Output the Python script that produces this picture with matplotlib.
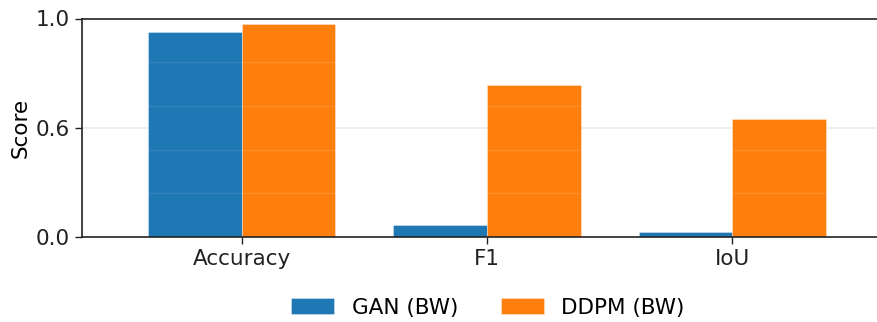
import numpy as np
import matplotlib
matplotlib.use("Agg")
import matplotlib.pyplot as plt

# data
metrics = ["Accuracy", "F1", "IoU"]
gan_bw = [0.938, 0.054, 0.024]
ddpm_bw = [0.975, 0.696, 0.539]
series_names = ["GAN (BW)", "DDPM (BW)"]
ytick_pos = [0.0, 0.5, 1.0]
ytick_labels = ["0.0", "0.6", "1.0"]

plt.rcParams["font.family"] = "DejaVu Sans"
plt.rcParams["font.size"] = 15.5

fig = plt.figure(figsize=(8.77, 3.22), dpi=100)
ax = fig.add_axes([82 / 877, 85 / 322, 810 / 877, 218.5 / 322])

x = np.arange(len(metrics))
w = 0.381
edge = (1, 1, 1, 0.4)
ax.bar(x - w / 2, gan_bw, w, color="#1f77b4", edgecolor=edge, linewidth=0.6,
       label=series_names[0], zorder=1)
ax.bar(x + w / 2, ddpm_bw, w, color="#ff7f0e", edgecolor=edge, linewidth=0.6,
       label=series_names[1], zorder=1)

# faint lines over the bars
for yv in np.arange(0.2, 1.0, 0.2):
    ax.axhline(yv, color="white", alpha=0.1, linewidth=1, zorder=2)

ax.set_ylim(0, 1.0)
ax.set_xlim(-0.65, 2.65)
ax.set_yticks(ytick_pos)
ax.set_yticklabels(ytick_labels)
ax.set_xticks(x)
ax.set_xticklabels(metrics)
ax.set_ylabel("Score")

ax.set_axisbelow(True)
ax.yaxis.grid(True, color="#ebebeb", linewidth=1.2)
# hide the grid lines that fall on the spines
for gl in ax.yaxis.get_gridlines():
    if gl.get_ydata()[0] in (0.0, 1.0):
        gl.set_visible(False)

for s in ["top", "left", "bottom"]:
    ax.spines[s].set_color("#222222")
    ax.spines[s].set_linewidth(1.2)
ax.spines["right"].set_visible(False)
ax.tick_params(axis="both", colors="#222222", labelcolor="#222222", length=5, width=1)

fig.legend(loc="center", bbox_to_anchor=(0.5565, 0.045), ncol=2, frameon=False,
           fontsize=15.5, handlelength=2.0, columnspacing=2.0)

fig.savefig("out.png", dpi=100)
